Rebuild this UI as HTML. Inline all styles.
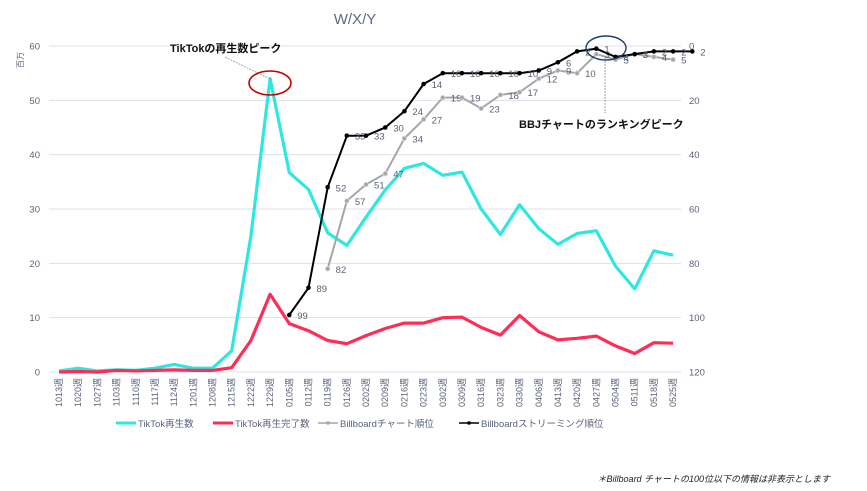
<!DOCTYPE html>
<html><head><meta charset="utf-8"><style>
body{margin:0;background:#fff;}
svg{display:block;font-family:"Liberation Sans","Noto Sans CJK JP",sans-serif;}
</style></head><body>
<svg id="s" width="867" height="491" xmlns="http://www.w3.org/2000/svg"></svg>
<script>
const s=document.getElementById('s');let h='';
const L=49,R=681,T=46,B=372,x0=59,dx=19.19;
const X=i=>x0+i*dx, YL=v=>B-(v/60)*(B-T), YR=r=>T+(r/120)*(B-T);
const cats="1013,1020,1027,1103,1110,1117,1124,1201,1208,1215,1222,1229,0105,0112,0119,0126,0202,0209,0216,0223,0302,0309,0316,0323,0330,0406,0413,0420,0427,0504,0511,0518,0525".split(',');
h+=`<text x="355" y="24" font-size="15" fill="#5a6a88" text-anchor="middle">W/X/Y</text>`;
for(let k=0;k<=6;k++){const y=YL(k*10);h+=`<line x1="${L}" x2="${R}" y1="${y}" y2="${y}" stroke="#dde1ea" stroke-width="1"/>`;
h+=`<text x="40" y="${y+3.5}" font-size="9.5" fill="#5a6278" text-anchor="end">${k*10}</text>`;
h+=`<text x="689" y="${YR(k*20)+3.5}" font-size="9.5" fill="#5a6278">${k*20}</text>`;}
h+=`<text transform="translate(23,60) rotate(-90)" font-size="8" fill="#5a6278" text-anchor="middle">百万</text>`;
cats.forEach((c,i)=>{h+=`<text transform="translate(${X(i)+3},${B+6}) rotate(-90)" font-size="9" fill="#5a6278" text-anchor="end">${c}週</text>`;});
const tk=[0.2,0.7,0.2,0.4,0.3,0.7,1.4,0.7,0.7,3.9,25,54,36.7,33.6,25.6,23.3,28.5,33.5,37.5,38.4,36.2,36.8,30,25.3,30.8,26.4,23.5,25.5,26,19.5,15.3,22.3,21.5];
const rd=[0,0.1,0,0.3,0.2,0.3,0.4,0.3,0.3,0.8,5.8,14.3,8.9,7.6,5.8,5.2,6.7,8,9,9,10,10.1,8.2,6.8,10.4,7.4,5.9,6.2,6.6,4.8,3.4,5.4,5.3];
const line=(a,f,off)=>a.map((v,i)=>`${X(i+off).toFixed(1)},${f(v).toFixed(1)}`).join(' ');
h+=`<polyline points="${line(tk,YL,0)}" fill="none" stroke="#2ee8e0" stroke-width="3.2" stroke-linejoin="round"/>`;
h+=`<polyline points="${line(rd,YL,0)}" fill="none" stroke="#ff2d55" stroke-width="3.2" stroke-linejoin="round"/>`;
const gr=[82,57,51,47,34,27,19,19,23,18,17,12,9,10,3,5,3,4,5];
const bk=[99,89,52,33,33,30,24,14,10,10,10,10,10,9,6,2,1,4,3,2,2,2];
h+=`<polyline points="${line(gr,YR,14)}" fill="none" stroke="#a6a6a6" stroke-width="2"/>`;
gr.forEach((v,i)=>{h+=`<circle cx="${X(i+14)}" cy="${YR(v)}" r="2.3" fill="#a6a6a6" stroke="#ddd" stroke-width="0.8"/><text x="${X(i+14)+8}" y="${YR(v)+4}" font-size="9.5" fill="#5a6278">${v}</text>`;});
h+=`<polyline points="${line(bk,YR,12)}" fill="none" stroke="#000" stroke-width="2"/>`;
bk.forEach((v,i)=>{h+=`<circle cx="${X(i+12)}" cy="${YR(v)}" r="2.3" fill="#000"/><text x="${X(i+12)+8}" y="${YR(v)+4}" font-size="9.5" fill="#5a6278">${v}</text>`;});
h+=`<line x1="225" y1="57" x2="272" y2="80" stroke="#999" stroke-width="0.8" stroke-dasharray="2,1"/>`;
h+=`<ellipse cx="270" cy="83" rx="21" ry="12" fill="none" stroke="#c00000" stroke-width="1.6"/>`;
h+=`<text x="170" y="52" font-size="11" font-weight="bold" fill="#111">TikTokの再生数ピーク</text>`;
h+=`<ellipse cx="606" cy="48" rx="20" ry="12" fill="none" stroke="#1f3f66" stroke-width="1.4"/>`;
h+=`<line x1="605" y1="58" x2="605" y2="113" stroke="#777" stroke-width="0.7" stroke-dasharray="2,1"/>`;
h+=`<text x="519" y="128" font-size="11" font-weight="bold" fill="#111">BBJチャートのランキングピーク</text>`;
const lg=[[116,'#2ee8e0','TikTok再生数',3,0],[213,'#ff2d55','TikTok再生完了数',3,0],[318,'#a6a6a6','Billboardチャート順位',1.5,1],[459,'#000','Billboardストリーミング順位',1.5,1]];
lg.forEach(([x,c,t,w,m])=>{h+=`<line x1="${x}" x2="${x+20}" y1="423" y2="423" stroke="${c}" stroke-width="${w}"/>`;if(m)h+=`<circle cx="${x+10}" cy="423" r="1.8" fill="${c}"/>`;h+=`<text x="${x+22}" y="427" font-size="9.5" fill="#5a6278">${t}</text>`;});
h+=`<text x="830" y="482" font-size="9" font-style="italic" fill="#222" text-anchor="end">＊Billboard チャートの100位以下の情報は非表示とします</text>`;
s.innerHTML=h;
</script>
</body></html>
